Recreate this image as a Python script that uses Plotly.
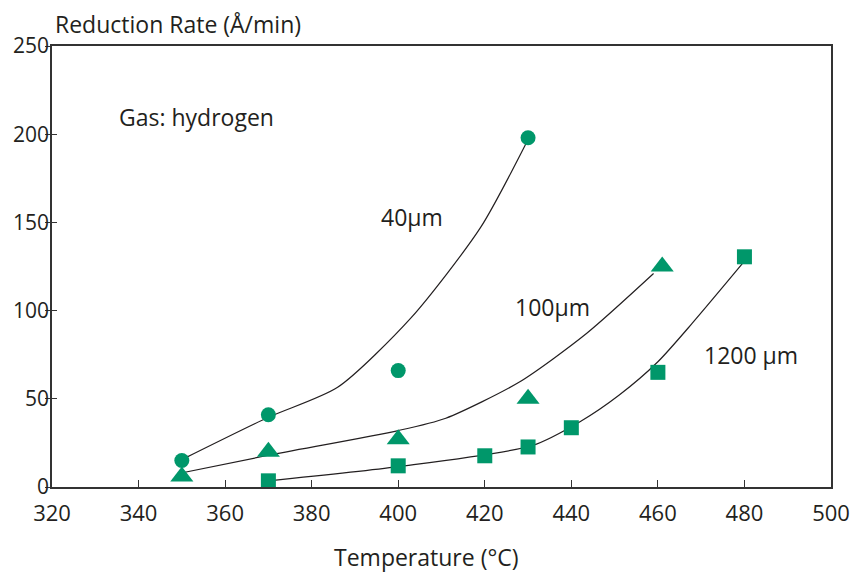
import plotly.graph_objects as go

# measured data points
t40 = [350, 370, 400, 430]
r40 = [15, 41, 66, 198]
t100 = [350, 370, 400, 430, 461]
r100 = [6, 20, 27, 50, 125]
t1200 = [370, 400, 420, 430, 440, 460, 480]
r1200 = [3.5, 12, 17.7, 22.7, 33.6, 65, 130.5]

# fitted curves
c40_x = [350, 370, 386, 403, 419, 430]
c40_y = [15.5, 39.5, 56.5, 96, 147, 197]
c100_x = [349, 370, 400, 411, 428, 443.5, 459]
c100_y = [7.5, 18, 32, 39, 59.5, 87, 121]
c1200_x = [370, 400, 431, 442, 451, 460, 468, 480]
c1200_y = [3.5, 11.5, 23.5, 37, 52, 71, 93, 128]

x_ticks = [320, 340, 360, 380, 400, 420, 440, 460, 480, 500]
y_ticks = [0, 50, 100, 150, 200, 250]

GREEN = "#00976a"
FONT = "Open Sans"
TXT = "#231f20"

# page has an 8px body margin; compensate in figure size / margins
OFF = 8
W, H = 865 - OFF, 575 - OFF
L, R, T, B = 52 - OFF, 865 - 831, 46 - OFF, 575 - 487


def paper_xy(px, py):
    fx = px - OFF
    fy = py - OFF
    return (fx - L) / (W - L - R), (H - B - fy) / (H - T - B)


fig = go.Figure()
for cx, cy in [(c40_x, c40_y), (c100_x, c100_y), (c1200_x, c1200_y)]:
    fig.add_trace(go.Scatter(x=cx, y=cy, mode="lines",
                             line=dict(color="#231f20", width=1.2, shape="spline", smoothing=0.7),
                             hoverinfo="skip", showlegend=False))

fig.add_trace(go.Scatter(x=t40, y=r40, mode="markers",
                         marker=dict(symbol="circle", size=15, color=GREEN), showlegend=False))
fig.add_trace(go.Scatter(x=t100, y=r100, mode="markers",
                         marker=dict(symbol="triangle-up", size=20, color=GREEN), showlegend=False))
fig.add_trace(go.Scatter(x=t1200, y=r1200, mode="markers",
                         marker=dict(symbol="square", size=15, color=GREEN), showlegend=False))

# overlay axis for the inner half of the y ticks
fig.add_trace(go.Scatter(x=[None], y=[None], xaxis="x2", yaxis="y2", showlegend=False))

ann_font = dict(family=FONT, size=23, color=TXT)
tx, ty = paper_xy(426.5, 557)
rx, ry = paper_xy(53, 24)
annotations = [
    dict(x=353.3, y=209.7, xref="x", yref="y", text="Gas: hydrogen", showarrow=False, font=ann_font),
    dict(x=403.1, y=153.2, xref="x", yref="y", text="40µm", showarrow=False, font=ann_font),
    dict(x=435.6, y=102, xref="x", yref="y", text="100µm", showarrow=False, font=ann_font),
    dict(x=481.5, y=74.7, xref="x", yref="y", text="1200 µm", showarrow=False, font=ann_font),
    dict(x=tx, y=ty, xref="paper", yref="paper", text="Temperature (°C)",
         showarrow=False, font=ann_font, xanchor="center", yanchor="middle"),
    dict(x=rx, y=ry, xref="paper", yref="paper", text="Reduction Rate (Å/min)",
         showarrow=False, font=ann_font, xanchor="left", yanchor="middle"),
]

fig.update_layout(
    width=W, height=H,
    margin=dict(l=L, r=R, t=T, b=B, autoexpand=False),
    paper_bgcolor="white", plot_bgcolor="white",
    font=dict(family=FONT, size=22, color=TXT),
    xaxis=dict(range=[320, 500], tickvals=x_ticks, ticks="inside", ticklen=7, tickwidth=1.3,
               tickcolor="#333", showline=True, linecolor="#333", linewidth=1.5, mirror=True,
               showgrid=False, zeroline=False, automargin=False, ticklabelstandoff=6,
               tickfont=dict(family=FONT, size=22, color=TXT)),
    yaxis=dict(range=[0, 250], tickvals=y_ticks, ticks="outside", ticklen=5, tickwidth=1.3,
               tickcolor="#333", showline=True, linecolor="#333", linewidth=1.5, mirror=True,
               showgrid=False, zeroline=False, automargin=False, ticklabelstandoff=-8,
               tickfont=dict(family=FONT, size=21, color=TXT)),
    xaxis2=dict(range=[320, 500], overlaying="x", visible=False),
    yaxis2=dict(range=[0, 250], overlaying="y", tickvals=y_ticks, ticks="inside", ticklen=5,
                tickwidth=1.3, tickcolor="#333", showticklabels=False, showline=False,
                showgrid=False, zeroline=False, side="left", automargin=False),
    annotations=annotations,
)

fig.write_html("out.html")
